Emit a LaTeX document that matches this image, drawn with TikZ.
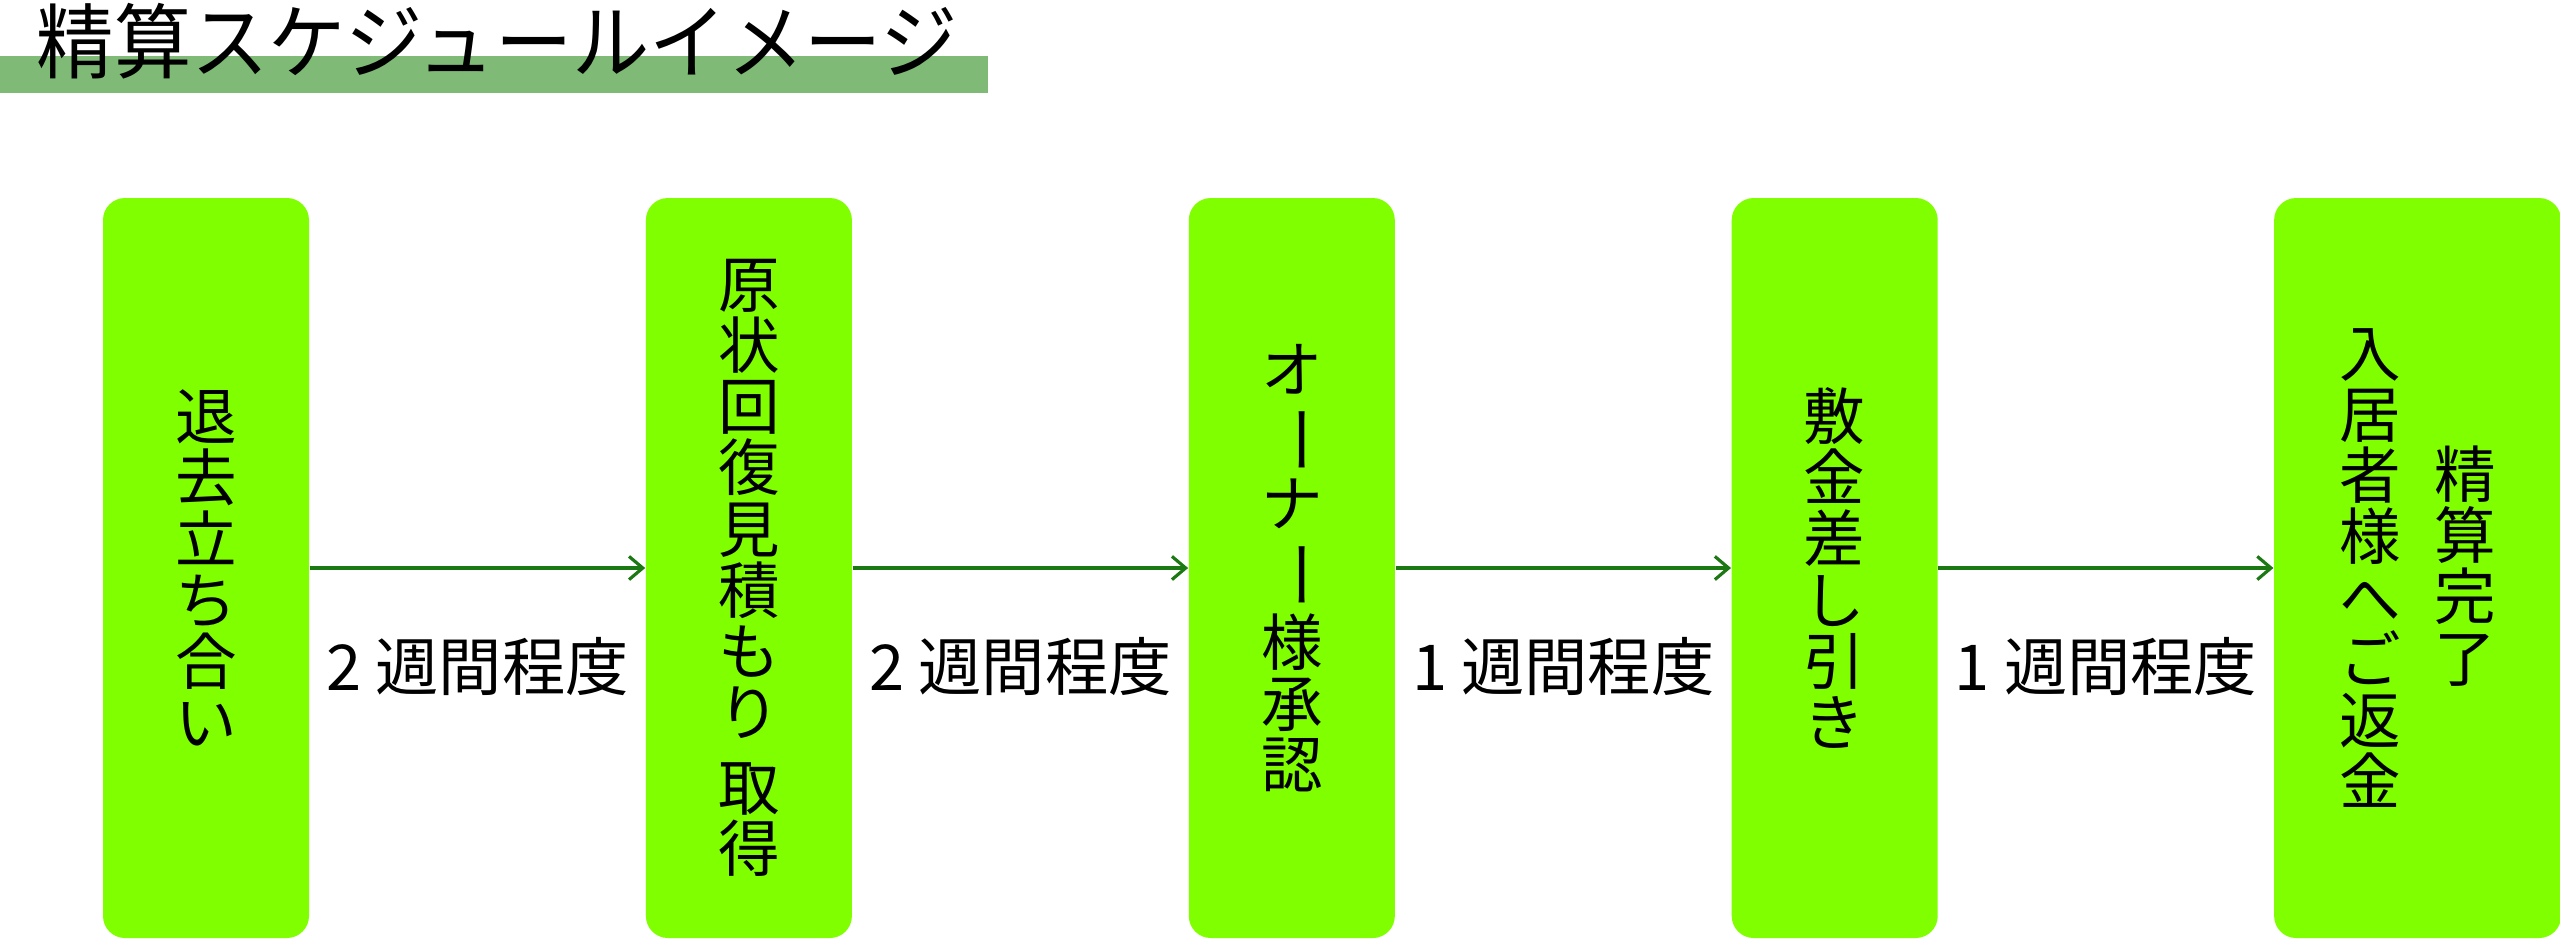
\documentclass[tikz,border=0pt]{standalone}
\usepackage{fontspec}
\setmainfont{Noto Sans CJK JP}
\usepackage{graphicx}
\usetikzlibrary{positioning, arrows.meta}

\definecolor{boxgreen}{RGB}{128,255,0}
\definecolor{bargreen}{RGB}{127,186,118}
\definecolor{arrowgreen}{RGB}{28,120,18}

\newcommand{\tatebar}{\rotatebox[origin=c]{-90}{\scalebox{1.15}[1]{ー}}}

\tikzset{
  stepbox/.style={fill=boxgreen, rounded corners=0.22cm, minimum width=2.06cm,
    minimum height=7.4cm, inner sep=0pt, align=center,
    font=\fontsize{17.5}{17.4}\selectfont},
  tatetext/.style={inner sep=0pt, align=center, font=\fontsize{17.5}{17.4}\selectfont},
  flow/.style={draw=arrowgreen, line width=0.9pt, -{Straight Barb[length=3.9pt,width=6.6pt]}},
  period/.style={font=\fontsize{18}{20}\selectfont, inner sep=0pt}
}

\begin{document}
\begin{tikzpicture}
\useasboundingbox (0,0) rectangle (25.6,-9.4);

% title
\fill[bargreen] (0,-0.56) rectangle (9.88,-0.93);
\node[anchor=west, inner sep=0pt, font=\fontsize{22}{26}\selectfont] (title) at (0.36,-0.41) {\scalebox{1}[1.06]{精算スケジュールイメージ}};

% steps
\node[stepbox] (b1) at (2.06,-5.68) {退\\去\\立\\ち\\合\\い};
\node[stepbox, right=3.355cm of b1] (b2) {原\\状\\回\\復\\見\\積\\も\\り\\[4pt]取\\得};
\node[stepbox, right=3.355cm of b2] (b3) {オ\\\tatebar\\ナ\\\tatebar\\様\\承\\認};
\node[stepbox, right=3.355cm of b3] (b4) {敷\\金\\差\\し\\引\\き};
\node[stepbox, minimum width=2.87cm, right=3.35cm of b4] (b5) {};
\node[tatetext] (b5a) at ([xshift=-0.475cm]b5.center) {入\\居\\者\\様\\へ\\ご\\返\\金};
\node[tatetext] (b5b) at ([xshift=0.475cm,yshift=0.02cm]b5.center) {精\\算\\完\\了};

% periods
\draw[flow] (b1) -- node[period, yshift=-0.99cm] (w1) {2 週間程度} (b2);
\draw[flow] (b2) -- node[period, yshift=-0.99cm] (w2) {2 週間程度} (b3);
\draw[flow] (b3) -- node[period, yshift=-0.99cm] (w3) {1 週間程度} (b4);
\draw[flow] (b4) -- node[period, yshift=-0.99cm] (w4) {1 週間程度} (b5);
\end{tikzpicture}
\end{document}
